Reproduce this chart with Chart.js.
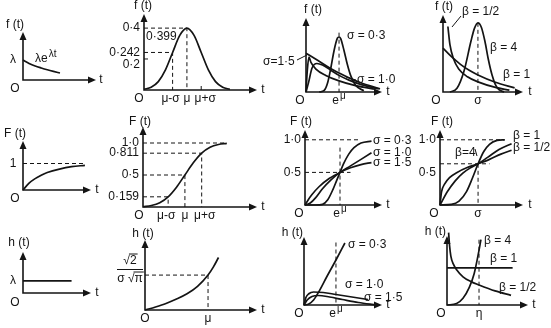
<!DOCTYPE html>
<html>
<head>
<meta charset="utf-8">
<script src="https://cdn.jsdelivr.net/npm/chart.js@4"></script>
<style>
  html, body { margin: 0; padding: 0; background: #fff; }
  #wrap { position: relative; width: 551px; height: 328px; }
  #wrap canvas { position: absolute; left: 0; top: 0; }
</style>
</head>
<body>
<div id="wrap"></div>
<script>
// values (arbitrary units per panel)

// exponential
const expPdfT = [0, 0.25, 0.5, 0.75, 1.0, 1.25, 1.52];
const expPdf  = [1.0, 0.83, 0.7, 0.6, 0.51, 0.43, 0.35];
const expCdfT = [0, 0.25, 0.5, 0.75, 1.0, 1.5, 2.0, 2.55];
const expCdf  = [0, 0.26, 0.43, 0.56, 0.66, 0.79, 0.88, 0.93];
const expHazT = [0, 2.0];
const expHaz  = [1, 1];

// normal (t in sigma units)
const normPdfT = [0, 0.5, 1, 1.5, 2, 2.5, 3, 3.5, 4, 4.5, 5, 5.5, 6];
const normPdf  = [0.004, 0.018, 0.054, 0.13, 0.242, 0.352, 0.399, 0.352, 0.242, 0.13, 0.054, 0.018, 0.004];
const normCdfT = [0, 0.5, 1, 1.5, 2, 2.5, 3, 3.5, 4, 4.5, 5];
const normCdf  = [0.006, 0.023, 0.067, 0.159, 0.31, 0.5, 0.69, 0.841, 0.933, 0.977, 0.994];
const normHazT = [0, 0.5, 1, 1.5, 2, 2.5, 3, 3.25, 3.5];
const normHaz  = [0, 0.07, 0.15, 0.25, 0.37, 0.54, 0.8, 0.98, 1.2];

// lognormal (t in units of e^mu)
const lnPdf03T = [0.4, 0.55, 0.65, 0.75, 0.85, 0.95, 1.0, 1.05, 1.15, 1.25, 1.35, 1.5, 1.75];
const lnPdf03  = [0, 0.04, 0.22, 0.6, 1.05, 1.36, 1.39, 1.35, 1.05, 0.7, 0.42, 0.17, 0.03];
const lnPdf10T = [0, 0.08, 0.18, 0.33, 0.5, 0.75, 1.0, 1.3, 1.7, 2.2];
const lnPdf10  = [0, 0.25, 0.6, 0.72, 0.68, 0.55, 0.42, 0.3, 0.18, 0.08];
const lnPdf15T = [0, 0.04, 0.09, 0.15, 0.3, 0.6, 1.0, 1.5, 2.1];
const lnPdf15  = [0, 0.55, 0.88, 0.75, 0.58, 0.42, 0.28, 0.16, 0.07];
const lnPdfTailT = [0, 0.35, 0.73, 1.2, 1.64, 2.24];
const lnPdfTail  = [0.98, 0.8, 0.6, 0.4, 0.24, 0.08];
const lnCdf03T = [0, 0.3, 0.5, 0.65, 0.8, 0.9, 1.0, 1.1, 1.25, 1.4, 1.6, 1.9];
const lnCdf03  = [0, 0, 0.01, 0.08, 0.24, 0.37, 0.5, 0.63, 0.78, 0.88, 0.95, 0.98];
const lnCdf10T = [0, 0.15, 0.3, 0.5, 0.75, 1.0, 1.3, 1.6, 1.9];
const lnCdf10  = [0, 0.03, 0.11, 0.25, 0.39, 0.5, 0.6, 0.7, 0.8];
const lnCdf15T = [0, 0.08, 0.2, 0.4, 0.7, 1.0, 1.3, 1.6, 1.9];
const lnCdf15  = [0, 0.07, 0.16, 0.28, 0.41, 0.5, 0.57, 0.62, 0.65];
const lnHaz03T = [0, 0.15, 0.3, 0.45, 0.7, 1.0, 1.28];
const lnHaz03  = [0, 0.04, 0.2, 0.5, 1.1, 1.8, 2.48];
const lnHaz10T = [0, 0.06, 0.15, 0.3, 0.6, 1.0, 1.5, 2.0];
const lnHaz10  = [0, 0.3, 0.45, 0.52, 0.5, 0.42, 0.32, 0.22];
const lnHaz15T = [0, 0.1, 0.25, 0.45, 0.8, 1.2, 1.7, 2.25];
const lnHaz15  = [0, 0.2, 0.34, 0.38, 0.32, 0.22, 0.1, 0.0];

// weibull (t in units of the scale parameter)
const wbPdf4T = [0.2, 0.4, 0.6, 0.8, 0.9, 1.0, 1.1, 1.2, 1.3, 1.4, 1.5, 1.6, 1.75];
const wbPdf4  = [0, 0.08, 0.45, 1.1, 1.38, 1.5, 1.4, 1.1, 0.7, 0.38, 0.16, 0.05, 0];
const wbPdf1T = [0, 0.25, 0.5, 0.75, 1.0, 1.5, 2.05];
const wbPdf1  = [0.95, 0.76, 0.6, 0.47, 0.37, 0.21, 0.09];
const wbPdfHT = [0.14, 0.2, 0.3, 0.45, 0.7, 1.0, 1.5, 1.9];
const wbPdfH  = [1.42, 1.02, 0.72, 0.5, 0.33, 0.22, 0.1, 0.04];
const wbCdf4T = [0, 0.3, 0.5, 0.7, 0.85, 1.0, 1.15, 1.3, 1.5, 1.7];
const wbCdf4  = [0, 0.01, 0.06, 0.21, 0.41, 0.632, 0.82, 0.93, 0.99, 1.0];
const wbCdf1T = [0, 0.2, 0.4, 0.6, 0.8, 1.0, 1.25, 1.55, 1.88];
const wbCdf1  = [0, 0.21, 0.37, 0.49, 0.57, 0.632, 0.73, 0.85, 0.94];
const wbCdfHT = [0, 0.04, 0.12, 0.25, 0.45, 0.7, 1.0, 1.3, 1.6, 1.88];
const wbCdfH  = [0, 0.2, 0.32, 0.42, 0.5, 0.57, 0.632, 0.7, 0.78, 0.84];
const wbHaz4T = [0, 0.3, 0.5, 0.7, 0.85, 0.95, 1.06];
const wbHaz4  = [0, 0.04, 0.18, 0.48, 0.85, 1.25, 1.76];
const wbHaz1T = [0, 2.05];
const wbHaz1  = [1, 1];
const wbHazHT = [0.05, 0.08, 0.12, 0.2, 0.3, 0.5, 0.75, 1.0, 1.5, 2.0];
const wbHazH  = [1.95, 1.6, 1.32, 1.1, 0.95, 0.76, 0.63, 0.54, 0.38, 0.26];

// dashed guide lines
const expCdfGuide = [[0, 1], [2.55, 1]];
const normPdfGuides = [[[0, 0.399], [3, 0.399], [3, 0]], [[0, 0.242], [2, 0.242], [2, 0]]];
const normCdfGuides = [[[0, 1], [5, 1]], [[0, 0.841], [3.5, 0.841], [3.5, 0]], [[0, 0.5], [2.5, 0.5], [2.5, 0]], [[0, 0.159], [1.5, 0.159], [1.5, 0]]];
const normHazGuide = [[0, 0.798], [3, 0.798], [3, 0]];
const lnPdfGuide = [[1, 1.5], [1, 0]];
const lnCdfGuides = [[[0, 1], [1.6, 1]], [[0, 0.5], [1.3, 0.5]], [[1, 0.88], [1, 0]]];
const lnHazGuide = [[1, 2.5], [1, 0]];
const wbPdfGuide = [[1, 1.5], [1, 0]];
const wbCdfGuides = [[[0, 1], [1.7, 1]], [[0, 0.632], [1.3, 0.632]], [[1, 0.632], [1, 0]]];
const wbHazGuide = [[1, 1.76], [1, 0]];

// tick labels
const normPdfYTicks = [[0.399, '0·4', 0], [0.242, '0·242', 0], [0.2, '0·2', 6]];
const normXTicks = ['μ-σ', 'μ', 'μ+σ'];
const normCdfYTicks = [[1, '1·0'], [0.841, '0·811'], [0.5, '0·5'], [0.159, '0·159']];
const halfOneTicks = [[1, '1·0'], [0.5, '0·5']];

const W = 551, H = 328;
const FONT = '"Liberation Sans", Arial, sans-serif';
const FS = 12;
const INK = '#141414';

function pts(xs, ys) { return xs.map((x, i) => ({ x: x, y: ys[i] })); }
function curve(xs, ys) {
  return { data: pts(xs, ys), borderColor: INK, borderWidth: 1.7, pointRadius: 0,
           cubicInterpolationMode: 'monotone', clip: false, fill: false };
}
function straight(xs, ys) {
  return { data: pts(xs, ys), borderColor: INK, borderWidth: 1.7, pointRadius: 0,
           tension: 0, clip: false, fill: false };
}
function guide(g) {
  return { data: g.map(p => ({ x: p[0], y: p[1] })), borderColor: INK, borderWidth: 1,
           borderDash: [4, 3], pointRadius: 0, tension: 0, clip: false, fill: false };
}

function drawText(ctx, s, x, y, align) {
  const parts = s.split('^');
  const base = parts[0], sup = parts[1] || '';
  ctx.font = FS + 'px ' + FONT;
  const wb = ctx.measureText(base).width;
  ctx.font = (FS - 2) + 'px ' + FONT;
  const ws = sup ? ctx.measureText(sup).width + 1 : 0;
  let left = x - (wb + ws) / 2;
  if (align === 'left') left = x;
  if (align === 'right') left = x - wb - ws;
  ctx.textAlign = 'left';
  ctx.textBaseline = 'middle';
  ctx.font = FS + 'px ' + FONT;
  ctx.fillText(base, left, y);
  if (sup) {
    ctx.font = (FS - 2) + 'px ' + FONT;
    ctx.fillText(sup, left + wb + 1, y - 5);
  }
}

// radical sign with overline, centred at cx
function radical(ctx, pre, inner, cx, y) {
  ctx.font = FS + 'px ' + FONT;
  const wp = ctx.measureText(pre).width;
  const wr = ctx.measureText('√').width;
  const wi = ctx.measureText(inner).width;
  const left = cx - (wp + wr + wi) / 2;
  ctx.textAlign = 'left';
  ctx.textBaseline = 'middle';
  ctx.fillText(pre, left, y);
  ctx.fillText('√', left + wp, y);
  ctx.fillText(inner, left + wp + wr, y);
  ctx.lineWidth = 1;
  ctx.beginPath();
  ctx.moveTo(left + wp + wr - 1, y - 7);
  ctx.lineTo(left + wp + wr + wi + 1, y - 7);
  ctx.stroke();
}

function decoPlugin(p) {
  return {
    id: 'deco',
    afterDatasetsDraw(chart) {
      const ctx = chart.ctx, a = chart.chartArea;
      const xs = chart.scales.x, ys = chart.scales.y;
      ctx.save();
      ctx.strokeStyle = INK; ctx.fillStyle = INK;
      ctx.setLineDash([]);
      // axes with arrow heads
      ctx.lineWidth = 1.6;
      ctx.beginPath();
      ctx.moveTo(a.left, a.top + 6);
      ctx.lineTo(a.left, a.bottom);
      ctx.lineTo(a.right - 6, a.bottom);
      ctx.stroke();
      ctx.beginPath();
      ctx.moveTo(a.left, a.top); ctx.lineTo(a.left - 3.5, a.top + 8); ctx.lineTo(a.left + 3.5, a.top + 8);
      ctx.closePath(); ctx.fill();
      ctx.beginPath();
      ctx.moveTo(a.right, a.bottom); ctx.lineTo(a.right - 8, a.bottom - 3.5); ctx.lineTo(a.right - 8, a.bottom + 3.5);
      ctx.closePath(); ctx.fill();
      // small tick marks
      ctx.lineWidth = 1;
      (p.xMarks || []).forEach(v => {
        const px = xs.getPixelForValue(v);
        ctx.beginPath(); ctx.moveTo(px, a.bottom); ctx.lineTo(px, a.bottom - 4); ctx.stroke();
      });
      (p.yMarks || []).forEach(v => {
        const py = ys.getPixelForValue(v);
        ctx.beginPath(); ctx.moveTo(a.left, py); ctx.lineTo(a.left + 4, py); ctx.stroke();
      });
      // tick labels
      (p.yLabels || []).forEach(l => drawText(ctx, l[1], a.left - 4, ys.getPixelForValue(l[0]) + (l[2] || 0), 'right'));
      (p.xLabels || []).forEach(l => drawText(ctx, l[1], xs.getPixelForValue(l[0]) + (l[2] || 0), a.bottom + 9, 'center'));
      // leader lines
      ctx.lineWidth = 1;
      (p.leaders || []).forEach(l => {
        ctx.beginPath(); ctx.moveTo(l[0], l[1]); ctx.lineTo(l[2], l[3]); ctx.stroke();
      });
      // free annotations
      (p.notes || []).forEach(n => drawText(ctx, n[0], n[1], n[2], n[3] || 'center'));
      if (p.extra) p.extra(ctx, a, xs, ys);
      ctx.restore();
    }
  };
}

const panels = [
  // row 1 : f(t)
  { box: [23, 32, 96, 80], xMax: 3.0, yMax: 2.4,
    sets: [curve(expPdfT, expPdf)],
    notes: [['f (t)', 15, 25], ['λ', 13, 60], ['λe^λt', 35, 59, 'left'], ['O', 15, 89], ['t', 101, 80]] },
  { box: [144, 14, 257, 90], xMax: 7.9, yMax: 0.49,
    sets: [curve(normPdfT, normPdf)].concat(normPdfGuides.map(guide)),
    yLabels: normPdfYTicks, yMarks: [0.2],
    xLabels: [[2, normXTicks[0], -2], [3, normXTicks[1]], [4, normXTicks[2], 4]], xMarks: [4],
    notes: [['f (t)', 143, 6], ['0·399', 146, 37, 'left'], ['O', 139, 99], ['t', 263, 90]] },
  { box: [306, 18, 382, 92], xMax: 2.3, yMax: 1.87,
    sets: [curve(lnPdf03T, lnPdf03), curve(lnPdf10T, lnPdf10), curve(lnPdf15T, lnPdf15),
           curve(lnPdfTailT, lnPdfTail), guide(lnPdfGuide)],
    xLabels: [[1, 'e^μ']],
    leaders: [[297, 60, 307, 55], [356, 80, 346, 77]],
    notes: [['f (t)', 313, 10], ['σ = 0·3', 347, 36, 'left'], ['σ=1·5', 263, 62, 'left'],
            ['σ = 1·0', 357, 80, 'left'], ['O', 300, 101], ['t', 388, 92]] },
  { box: [443, 15, 523, 92], xMax: 2.29, yMax: 1.67,
    sets: [curve(wbPdf4T, wbPdf4), curve(wbPdf1T, wbPdf1), curve(wbPdfHT, wbPdfH), guide(wbPdfGuide)],
    xLabels: [[1, 'σ']],
    leaders: [[461, 16, 452, 27]],
    notes: [['f (t)', 444, 7], ['β = 1/2', 462, 12, 'left'], ['β = 4', 490, 48, 'left'],
            ['β = 1', 503, 75, 'left'], ['O', 436, 101], ['t', 530, 92]] },

  // row 2 : F(t)
  { box: [23, 141, 91, 190], xMax: 2.8, yMax: 1.85,
    sets: [curve(expCdfT, expCdf), guide(expCdfGuide)],
    notes: [['F (t)', 15, 134], ['1', 13, 164], ['O', 15, 199], ['t', 97, 190]] },
  { box: [143, 127, 257, 207], xMax: 6.8, yMax: 1.25,
    sets: [curve(normCdfT, normCdf)].concat(normCdfGuides.map(guide)),
    yLabels: normCdfYTicks,
    xLabels: [[1.5, normXTicks[0], -2], [2.5, normXTicks[1]], [3.5, normXTicks[2], 3]],
    notes: [['F (t)', 140, 122], ['O', 139, 216], ['t', 263, 207]] },
  { box: [305, 130, 382, 205], xMax: 2.2, yMax: 1.15,
    sets: [curve(lnCdf03T, lnCdf03), curve(lnCdf10T, lnCdf10), curve(lnCdf15T, lnCdf15)].concat(lnCdfGuides.map(guide)),
    yLabels: halfOneTicks, xLabels: [[1, 'e^μ']],
    notes: [['F (t)', 301, 122], ['σ = 0·3', 373, 141, 'left'], ['σ = 1·0', 373, 153, 'left'],
            ['σ = 1·5', 373, 163, 'left'], ['O', 299, 214], ['t', 388, 205]] },
  { box: [440, 130, 523, 205], xMax: 2.18, yMax: 1.15,
    sets: [curve(wbCdf4T, wbCdf4), curve(wbCdf1T, wbCdf1), curve(wbCdfHT, wbCdfH)].concat(wbCdfGuides.map(guide)),
    yLabels: halfOneTicks, xLabels: [[1, 'σ']],
    leaders: [[475, 149, 477, 156]],
    notes: [['F (t)', 442, 122], ['β=4', 455, 153, 'left'], ['β = 1', 513, 136, 'left'],
            ['β = 1/2', 513, 148, 'left'], ['O', 434, 214], ['t', 530, 205]] },

  // row 3 : h(t)
  { box: [23, 252, 91, 293], xMax: 2.8, yMax: 3.4,
    sets: [straight(expHazT, expHaz)],
    notes: [['h (t)', 19, 243], ['λ', 13, 281], ['O', 15, 303], ['t', 97, 293]] },
  { box: [145, 240, 257, 310], xMax: 5.33, yMax: 1.6,
    sets: [curve(normHazT, normHaz), guide(normHazGuide)],
    xLabels: [[3, normXTicks[1]]],
    notes: [['h (t)', 143, 234], ['O', 145, 319], ['t', 263, 310]],
    extra: function (ctx) {
      radical(ctx, '', '2', 130, 261);
      ctx.lineWidth = 1;
      ctx.beginPath(); ctx.moveTo(117, 269.5); ctx.lineTo(143, 269.5); ctx.stroke();
      radical(ctx, 'σ ', 'π', 130, 279);
    } },
  { box: [304, 237, 382, 305], xMax: 2.44, yMax: 2.72,
    sets: [curve(lnHaz03T, lnHaz03), curve(lnHaz10T, lnHaz10), curve(lnHaz15T, lnHaz15), guide(lnHazGuide)],
    xLabels: [[1, 'e^μ']],
    notes: [['h (t)', 303, 233, 'right'], ['σ = 0·3', 348, 245, 'left'], ['σ = 1·0', 345, 285, 'left'],
            ['σ = 1·5', 364, 298, 'left'], ['O', 299, 314], ['t', 388, 305]] },
  { box: [447, 236, 528, 305], xMax: 2.53, yMax: 1.86,
    sets: [curve(wbHaz4T, wbHaz4), straight(wbHaz1T, wbHaz1), curve(wbHazHT, wbHazH), guide(wbHazGuide)],
    xLabels: [[1, 'η']],
    notes: [['h (t)', 446, 232, 'right'], ['β = 4', 484, 241, 'left'], ['β = 1', 490, 259, 'left'],
            ['β = 1/2', 499, 288, 'left'], ['O', 441, 314], ['t', 534, 305]] }
];

const wrap = document.getElementById('wrap');
panels.forEach(p => {
  const cv = document.createElement('canvas');
  cv.width = W; cv.height = H;
  wrap.appendChild(cv);
  new Chart(cv, {
    type: 'line',
    data: { datasets: p.sets },
    options: {
      responsive: false,
      animation: false,
      events: [],
      layout: { padding: { left: p.box[0], top: p.box[1], right: W - p.box[2], bottom: H - p.box[3] } },
      scales: {
        x: { type: 'linear', min: 0, max: p.xMax, display: false },
        y: { type: 'linear', min: 0, max: p.yMax, display: false }
      },
      plugins: { legend: { display: false }, tooltip: { enabled: false }, title: { display: false } }
    },
    plugins: [decoPlugin(p)]
  });
});
</script>
</body>
</html>
